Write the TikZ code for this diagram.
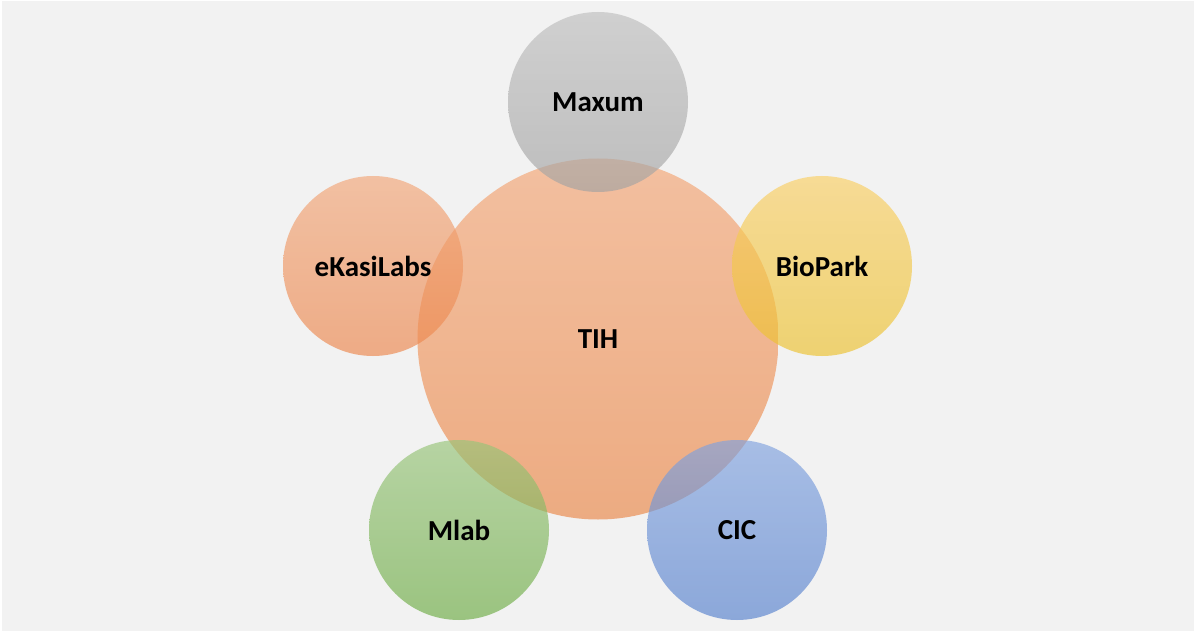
\documentclass[tikz,border=0pt]{standalone}
\usepackage{fontspec}
\setmainfont{Carlito}
% fill colours of the bubbles (drawn at 65% opacity)
\definecolor{canvasgray}{RGB}{242,242,242}
\definecolor{hubtop}{RGB}{244,165,116}
\definecolor{hubbot}{RGB}{234,134,70}
\definecolor{maxtop}{RGB}{190,190,190}
\definecolor{maxbot}{RGB}{162,162,162}
\definecolor{biotop}{RGB}{250,207,100}
\definecolor{biobot}{RGB}{236,193,45}
\definecolor{ekatop}{RGB}{242,166,120}
\definecolor{ekabot}{RGB}{236,134,76}
\definecolor{mlabtop}{RGB}{151,196,121}
\definecolor{mlabbot}{RGB}{108,171,67}
\definecolor{cictop}{RGB}{128,162,223}
\definecolor{cicbot}{RGB}{85,128,205}
\begin{document}
\begin{tikzpicture}[x=1pt,y=-1pt,
  bubble/.style={circle, inner sep=0pt, draw=none, fill opacity=0.65},
  hubbubble/.style={bubble, minimum size=361pt},
  satbubble/.style={bubble, minimum size=180pt},
  tag/.style={font=\bfseries\fontsize{29}{33}\selectfont, text=black, inner sep=0pt}]
% canvas
\fill[white] (0,0) rectangle (1194,631);
\fill[canvasgray] (2,1) rectangle (1194,631);
\useasboundingbox (0,0) rectangle (1194,631);
% central hub
\node[hubbubble, top color=hubtop, bottom color=hubbot] (tih) at (598,339) {};
% satellites around the hub
\node[satbubble, top color=maxtop, bottom color=maxbot] (maxum) at (598,102) {};
\node[satbubble, top color=biotop, bottom color=biobot] (biopark) at (822,266) {};
\node[satbubble, top color=ekatop, bottom color=ekabot] (ekasi) at (373,266) {};
\node[satbubble, top color=mlabtop, bottom color=mlabbot] (mlab) at (459,530) {};
\node[satbubble, top color=cictop, bottom color=cicbot] (cic) at (737,530) {};
% labels
\node[tag] (tihtext) at (tih.center) {TIH};
\node[tag] (maxumtext) at (maxum.center) {Maxum};
\node[tag] (bioparktext) at (biopark.center) {BioPark};
\node[tag] (ekasitext) at (ekasi.center) {eKasiLabs};
\node[tag] (mlabtext) at (mlab.center) {Mlab};
\node[tag] (cictext) at (cic.center) {CIC};
\end{tikzpicture}
\end{document}
